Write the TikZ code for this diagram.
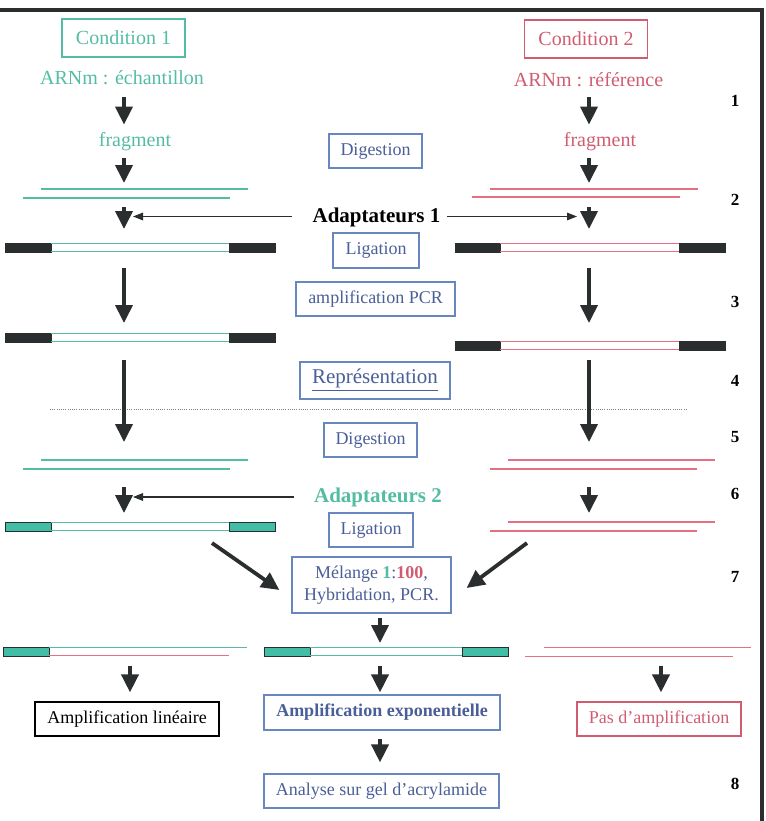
\documentclass[tikz,border=0pt]{standalone}
\usepackage{fontspec}
\setmainfont{Liberation Serif}
\usetikzlibrary{arrows.meta}

\definecolor{tealtxt}{RGB}{84,188,163}
\definecolor{tealfill}{RGB}{66,190,166}
\definecolor{pinktxt}{RGB}{208,92,112}
\definecolor{pinkln}{RGB}{228,112,132}
\definecolor{bluetxt}{RGB}{74,94,152}
\definecolor{boxblue}{RGB}{104,134,192}
\definecolor{darkc}{RGB}{42,46,46}

\tikzset{
  lbl/.style={inner sep=0pt, text height=7pt, text depth=2pt, font=\fontsize{10}{12}\selectfont},
  condbox/.style={draw, line width=0.6pt, inner sep=0pt, minimum width=61.5pt, minimum height=19pt, font=\fontsize{10}{12}\selectfont},
  bbox/.style={draw=boxblue, line width=0.6pt, text=bluetxt, inner sep=0pt, minimum height=17pt, font=\fontsize{9}{11}\selectfont},
  adlbl/.style={inner sep=0pt, text height=7.5pt, text depth=2pt, font=\fontsize{10.5}{12}\selectfont\bfseries},
  numlbl/.style={inner sep=0pt, font=\fontsize{8.5}{10}\selectfont\bfseries},
  bigarr/.style={darkc, line width=1.9pt, -{Triangle[width=8.5pt,length=9pt]}},
  thinarr/.style={darkc, line width=0.6pt, -{Triangle[width=3.8pt,length=5pt]}},
  capD/.style={fill=darkc, draw=darkc, line width=0.4pt},
  capT/.style={fill=tealfill, draw=darkc, line width=0.5pt},
  strT/.style={draw=tealtxt, line width=0.7pt},
  strP/.style={draw=pinkln, line width=0.7pt}
}

\begin{document}
\begin{tikzpicture}[x=0.5pt, y=-0.5pt]
\useasboundingbox (0,0) rectangle (766,821);
% cadre
\draw[darkc, line width=1.6pt] (0,10) -- (762,10) -- (762,821);

% conditions
\node[condbox, draw=tealtxt, text=tealtxt] (cond1) at (123.5,38) {Condition 1};
\node[condbox, draw=pinktxt, text=pinktxt] (cond2) at (586,39) {Condition 2};
\node[lbl, text=tealtxt] (arnL) at (122,79) {ARNm : échantillon};
\node[lbl, text=pinktxt] (arnR) at (588.5,81) {ARNm : référence};
\node[lbl, text=tealtxt] (fragL) at (135,141) {fragment};
\node[lbl, text=pinktxt] (fragR) at (600,141) {fragment};

% étapes centrales
\node[bbox, minimum width=46.5pt] (digA) at (375.5,151) {Digestion};
\node[adlbl] (adapA) at (376.5,216.5) {Adaptateurs 1};
\node[bbox, minimum width=43pt, minimum height=17.5pt] (ligA) at (376,250.5) {Ligation};
\node[bbox, minimum width=79.5pt] (ampPCR) at (375.5,299) {amplification PCR};
\node[bbox, minimum width=75pt, minimum height=18.5pt, font=\fontsize{10.5}{12}\selectfont] (repr) at (375,380.5) {\underline{Représentation}};
\node[bbox, minimum width=46.5pt] (digB) at (370.5,440) {Digestion};
\node[adlbl, text=tealtxt] (adapB) at (378,497) {Adaptateurs 2};
\node[bbox, minimum width=42pt] (ligB) at (371,530) {Ligation};
\node[bbox, minimum width=79.5pt, minimum height=28pt, align=center] (melange) at (371.5,585)
  {Mélange {\color{tealtxt}\textbf{1}}:{\color{pinktxt}\textbf{100}},\\Hybridation, PCR.};
\node[bbox, draw=black, text=black, minimum width=92pt] (linL) at (127,719) {Amplification linéaire};
\node[bbox, minimum width=118pt, minimum height=17.5pt, font=\fontsize{9}{11}\selectfont\bfseries] (expoM) at (382,712.5) {Amplification exponentielle};
\node[bbox, draw=pinktxt, text=pinktxt, minimum width=82pt] (pasR) at (659,719) {Pas d'amplification};
\node[bbox, minimum width=117.5pt] (analyse) at (381.5,791) {Analyse sur gel d'acrylamide};

% numéros
\node[numlbl] (num1) at (735,101) {1};
\node[numlbl] (num2) at (735,200) {2};
\node[numlbl] (num3) at (735,302) {3};
\node[numlbl] (num4) at (735,381) {4};
\node[numlbl] (num5) at (735,437) {5};
\node[numlbl] (num6) at (735,494) {6};
\node[numlbl] (num7) at (735,577) {7};
\node[numlbl] (num8) at (735,784) {8};

% repères des brins
\coordinate (dsL1) at (124,193);
\coordinate (cnL1) at (124,247.5);
\coordinate (cnL2) at (124,338);
\coordinate (dsL2) at (124,464.5);
\coordinate (cnL3) at (124,527);
\coordinate (dsR1) at (589,193);
\coordinate (cnR1) at (589,247.5);
\coordinate (cnR2) at (589,346.5);
\coordinate (dsR2) at (589,464.5);
\coordinate (dsR3) at (589,526.5);
\coordinate (hyL) at (130,652);
\coordinate (hyM) at (380,652);
\coordinate (hyR) at (661,652);
\coordinate (dgL) at (212,543);
\coordinate (dgR) at (527,543);

% fragments
\foreach \y in {189,460} {
  \draw[strT] (41,\y) -- (248,\y);
  \draw[strT] (23,\y+9) -- (230,\y+9);
}
\draw[strP] (490,189) -- (698,189);
\draw[strP] (472,197) -- (680,197);
\foreach \y in {460,522} {
  \draw[strP] (508,\y) -- (715,\y);
  \draw[strP] (490,\y+9) -- (697,\y+9);
}

% fragments + adaptateurs 1
\foreach \y in {243,333} {
  \path[capD] (5,\y) rectangle (51,\y+9);
  \path[capD] (229,\y) rectangle (275,\y+9);
  \draw[strT] (51,\y+0.5) -- (229,\y+0.5);
  \draw[strT] (51,\y+8.5) -- (229,\y+8.5);
}
\foreach \y in {243,341} {
  \path[capD] (455,\y) rectangle (500,\y+9);
  \path[capD] (679,\y) rectangle (725,\y+9);
  \draw[strP] (500,\y+0.5) -- (679,\y+0.5);
  \draw[strP] (500,\y+8.5) -- (679,\y+8.5);
}

% fragments + adaptateurs 2
\path[capT] (5,522) rectangle (51,531);
\path[capT] (229,522) rectangle (275,531);
\draw[strT] (51,522.5) -- (229,522.5);
\draw[strT] (51,530.5) -- (229,530.5);

% hybrides
\path[capT] (3,647) rectangle (49,656);
\draw[strT] (49,647.5) -- (247,647.5);
\draw[strP] (49,655.5) -- (229,655.5);
\path[capT] (264,647) rectangle (310,656);
\path[capT] (462,647) rectangle (508,656);
\draw[strT] (310,647.5) -- (462,647.5);
\draw[strT] (310,655.5) -- (462,655.5);
\draw[strP] (544,647.5) -- (751,647.5);
\draw[strP] (525,656.5) -- (733,656.5);

% séparation
\draw[gray, line width=0.5pt, dash pattern=on 0.5pt off 0.6pt] (50,409) -- (687,409);

% flèches gauche
\draw[bigarr, shorten <=4.5pt, shorten >=3.5pt] (arnL.south -| dsL1) -- (fragL.north -| dsL1);
\draw[bigarr, shorten <=4pt, shorten >=5pt] (fragL.south -| dsL1) -- (dsL1);
\draw[bigarr, shorten <=7pt, shorten >=9.25pt] (dsL1) -- (cnL1);
\draw[bigarr, shorten <=10.25pt, shorten >=7.5pt] (cnL1) -- (cnL2);
\draw[bigarr, shorten <=11pt, shorten >=11.25pt] (cnL2) -- (dsL2);
\draw[bigarr, shorten <=11.25pt, shorten >=7pt] (dsL2) -- (cnL3);
% flèches droite
\draw[bigarr, shorten <=3.5pt, shorten >=3.5pt] (arnR.south -| dsR1) -- (fragR.north -| dsR1);
\draw[bigarr, shorten <=4pt, shorten >=5pt] (fragR.south -| dsR1) -- (dsR1);
\draw[bigarr, shorten <=7pt, shorten >=9.25pt] (dsR1) -- (cnR1);
\draw[bigarr, shorten <=10.25pt, shorten >=11.75pt] (cnR1) -- (cnR2);
\draw[bigarr, shorten <=6.75pt, shorten >=11.25pt] (cnR2) -- (dsR2);
\draw[bigarr, shorten <=11.25pt, shorten >=6.75pt] (dsR2) -- (dsR3);
% adaptateurs
\draw[thinarr, shorten <=10pt, shorten >=4.5pt] (adapA.west) -- (adapA.west -| dsL1);
\draw[thinarr, shorten <=3pt, shorten >=6pt] (adapA.east) -- (adapA.east -| dsR1);
\draw[thinarr, shorten <=10pt, shorten >=4.5pt] (adapB.west) -- (adapB.west -| dsL1);
% mélange
\draw[bigarr] (dgL) -- ([shift={(-12,5)}]melange.west);
\draw[bigarr] (dgR) -- ([shift={(15,3)}]melange.east);
\draw[bigarr, shorten <=2pt, shorten >=4.5pt] (melange.south -| hyM) -- (hyM);
\draw[bigarr, shorten <=7pt, shorten >=1pt] (hyM) -- (expoM.north -| hyM);
\draw[bigarr, shorten <=4pt, shorten >=5.5pt] (expoM.south -| hyM) -- (analyse.north -| hyM);
\draw[bigarr, shorten <=7pt, shorten >=4.5pt] (hyL) -- (linL.north -| hyL);
\draw[bigarr, shorten <=7pt, shorten >=4.5pt] (hyR) -- (pasR.north -| hyR);
\end{tikzpicture}
\end{document}
